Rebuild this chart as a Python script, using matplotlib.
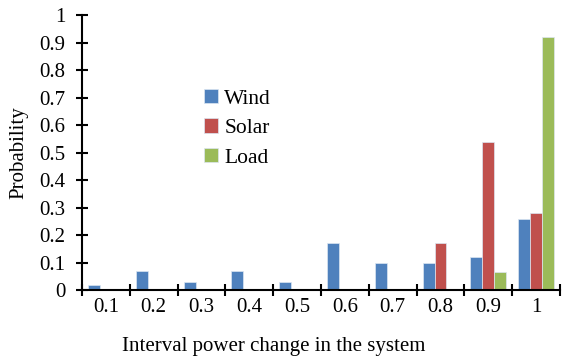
import numpy as np
import matplotlib.pyplot as plt

plt.rcParams['font.family'] = ['Liberation Serif', 'DejaVu Serif']

# probability of each interval power change
intervals = ['0.1', '0.2', '0.3', '0.4', '0.5', '0.6', '0.7', '0.8', '0.9', '1']
wind = [0.02, 0.07, 0.03, 0.07, 0.03, 0.17, 0.10, 0.10, 0.12, 0.26]
solar = [0, 0, 0, 0, 0, 0, 0, 0.17, 0.54, 0.28]
load = [0, 0, 0, 0, 0, 0, 0, 0, 0.065, 0.92]

colors = ['#4F81BD', '#C0504D', '#9BBB59']
names = ['Wind', 'Solar', 'Load']

fig = plt.figure(figsize=(5.63, 3.6), dpi=100)
ax = fig.add_axes([0.1457, 0.1944, 0.849, 0.7639])

x = np.arange(len(intervals))
w = 0.25
for i, (vals, c, n) in enumerate(zip([wind, solar, load], colors, names)):
    ax.bar(x + (i - 1) * w, vals, w, color=c, edgecolor='#dce6f2',
           linewidth=0.5, label=n)

ax.set_xlim(-0.5, len(intervals) - 0.5)
ax.set_ylim(0, 1)
ax.set_yticks(np.arange(0, 1.01, 0.1))
ax.set_yticklabels(['0'] + ['%.1f' % v for v in np.arange(0.1, 0.95, 0.1)] + ['1'])

# category labels centered, ticks on category boundaries
ax.set_xticks(np.arange(-0.5, len(intervals), 1))
ax.set_xticklabels([])
ax.set_xticks(x, minor=True)
ax.set_xticklabels(intervals, minor=True)
ax.tick_params(axis='x', which='minor', length=0, pad=6, labelsize=15)
ax.tick_params(axis='x', which='major', direction='inout', length=8, width=1.5)
ax.tick_params(axis='y', direction='inout', length=8, width=1.5, labelsize=15, pad=8)

for s in ['top', 'right']:
    ax.spines[s].set_visible(False)
for s in ['left', 'bottom']:
    ax.spines[s].set_linewidth(1.5)

ax.set_xlabel('Interval power change in the system', fontsize=15)
ax.xaxis.set_label_coords(0.402, -0.172)
ax.set_ylabel('Probability', fontsize=15)
ax.yaxis.set_label_coords(-0.113, 0.5)

ax.legend(loc='upper left', bbox_to_anchor=(0.232, 0.77), frameon=False,
          fontsize=15.5, handlelength=0.65, handleheight=0.65, handletextpad=0.3,
          labelspacing=0.45, borderpad=0)

fig.savefig('out.png', dpi=100)
